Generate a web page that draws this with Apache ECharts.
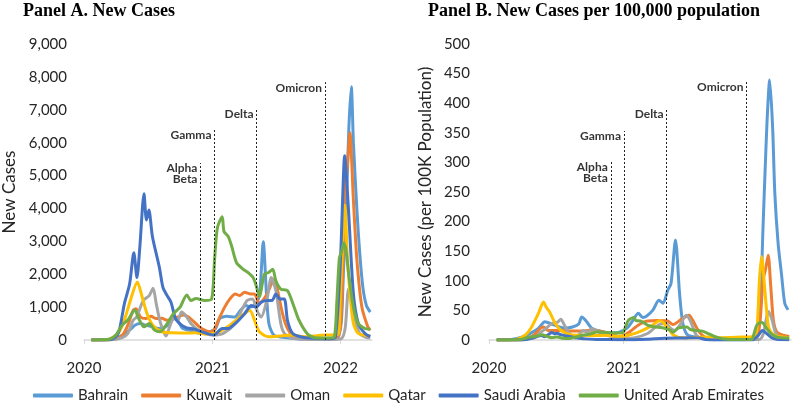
<!DOCTYPE html>
<html><head><meta charset="utf-8">
<script src="https://cdn.jsdelivr.net/npm/echarts@6/dist/echarts.min.js"></script>
<style>html,body{margin:0;padding:0;background:#fff}#c{width:797px;height:411px}</style>
</head><body><div id="c"></div>
<script>
const countries = ["Bahrain","Kuwait","Oman","Qatar","Saudi Arabia","United Arab Emirates"];
const colors = ["#5B9BD5","#ED7D31","#A5A5A5","#FFC000","#4472C4","#70AD47"];
const yearTicks = ["2020-01-01","2021-01-01","2022-01-01"];

// Panel A: new cases
const bahrainA = [["2020-01-22",0],["2020-03-01",10],["2020-04-01",50],["2020-04-20",150],["2020-05-10",300],["2020-05-25",450],["2020-06-10",500],["2020-06-25",450],["2020-07-15",400],["2020-08-01",350],["2020-08-20",400],["2020-09-05",550],["2020-09-12",650],["2020-09-25",580],["2020-10-08",350],["2020-10-25",300],["2020-11-15",230],["2020-12-05",200],["2020-12-25",250],["2021-01-10",350],["2021-01-22",650],["2021-02-10",720],["2021-03-06",700],["2021-03-22",900],["2021-04-07",1050],["2021-04-20",1000],["2021-05-05",1100],["2021-05-16",1430],["2021-05-26",2990],["2021-06-04",1430],["2021-06-11",500],["2021-06-25",150],["2021-07-20",80],["2021-09-01",40],["2021-11-01",30],["2021-12-20",40],["2021-12-28",150],["2022-01-04",600],["2022-01-10",2200],["2022-01-19",4450],["2022-01-25",6450],["2022-02-01",7700],["2022-02-07",6000],["2022-02-17",3950],["2022-02-25",2650],["2022-03-06",1600],["2022-03-16",1050],["2022-03-27",850]];
const kuwaitA = [["2020-01-22",0],["2020-03-01",5],["2020-04-01",40],["2020-04-20",150],["2020-05-05",450],["2020-05-20",900],["2020-05-28",950],["2020-06-10",700],["2020-06-25",650],["2020-07-10",720],["2020-07-25",650],["2020-08-10",660],["2020-08-25",600],["2020-09-10",650],["2020-09-25",700],["2020-10-10",760],["2020-10-25",700],["2020-11-10",550],["2020-11-25",400],["2020-12-10",300],["2020-12-25",250],["2021-01-05",300],["2021-01-20",650],["2021-02-05",1000],["2021-02-20",1250],["2021-03-07",1400],["2021-03-20",1350],["2021-04-03",1450],["2021-04-20",1400],["2021-05-01",1400],["2021-05-15",1100],["2021-05-28",1250],["2021-06-08",1450],["2021-06-20",1750],["2021-06-28",1850],["2021-07-07",1450],["2021-07-20",800],["2021-08-01",400],["2021-08-20",100],["2021-10-01",40],["2021-12-20",50],["2022-01-01",400],["2022-01-07",1800],["2022-01-13",4700],["2022-01-20",5200],["2022-01-28",6300],["2022-02-07",4250],["2022-02-17",2430],["2022-03-03",1010],["2022-03-20",400],["2022-03-27",300]];
const omanA = [["2020-01-22",0],["2020-03-01",0],["2020-04-01",20],["2020-04-20",80],["2020-05-05",200],["2020-05-20",600],["2020-05-30",700],["2020-06-18",1200],["2020-07-05",1350],["2020-07-16",1570],["2020-07-25",1100],["2020-08-04",600],["2020-08-15",250],["2020-08-22",120],["2020-09-01",400],["2020-09-14",700],["2020-09-25",600],["2020-10-05",850],["2020-10-20",700],["2020-11-01",500],["2020-11-15",350],["2020-11-28",250],["2020-12-15",180],["2021-01-05",150],["2021-02-01",200],["2021-03-07",500],["2021-03-25",900],["2021-04-10",1200],["2021-04-25",1250],["2021-05-10",850],["2021-05-20",700],["2021-06-05",1200],["2021-06-18",1900],["2021-07-01",1500],["2021-07-15",500],["2021-07-25",200],["2021-08-15",60],["2021-10-01",20],["2021-12-15",15],["2022-01-05",50],["2022-01-15",400],["2022-01-24",1550],["2022-02-02",1200],["2022-02-12",600],["2022-02-25",200],["2022-03-15",80],["2022-03-27",60]];
const qatarA = [["2020-01-22",0],["2020-03-01",0],["2020-03-20",50],["2020-04-10",250],["2020-04-25",600],["2020-05-15",1300],["2020-06-01",1760],["2020-06-15",1300],["2020-06-28",820],["2020-07-15",450],["2020-08-10",250],["2020-09-10",220],["2020-10-15",210],["2020-11-15",220],["2020-12-15",180],["2021-01-05",200],["2021-01-25",280],["2021-02-20",450],["2021-03-15",650],["2021-04-18",900],["2021-05-01",600],["2021-05-15",250],["2021-06-10",100],["2021-07-10",120],["2021-08-15",150],["2021-09-20",100],["2021-11-20",150],["2021-12-20",150],["2021-12-27",200],["2022-01-01",1400],["2022-01-07",2800],["2022-01-14",4100],["2022-01-20",2700],["2022-01-28",1420],["2022-02-07",505],["2022-02-21",200],["2022-03-27",120]];
const saudiA = [["2020-01-22",0],["2020-03-01",0],["2020-03-20",20],["2020-04-05",150],["2020-04-12",350],["2020-04-25",1100],["2020-05-10",1700],["2020-05-22",2650],["2020-05-31",1900],["2020-06-08",2800],["2020-06-20",4450],["2020-06-27",3650],["2020-07-04",3950],["2020-07-14",3150],["2020-08-03",2200],["2020-08-13",1600],["2020-08-25",1350],["2020-09-05",1150],["2020-09-18",650],["2020-10-05",450],["2020-10-20",370],["2020-11-10",330],["2020-12-15",200],["2021-01-05",150],["2021-01-29",350],["2021-02-15",350],["2021-03-07",500],["2021-04-03",800],["2021-04-22",1050],["2021-05-06",1000],["2021-05-20",1150],["2021-06-08",1200],["2021-06-20",1200],["2021-07-01",1400],["2021-07-12",1250],["2021-07-25",1250],["2021-08-03",600],["2021-08-17",210],["2021-09-09",100],["2021-10-15",50],["2021-12-01",40],["2021-12-18",100],["2022-01-01",2400],["2022-01-07",4200],["2022-01-13",5600],["2022-01-24",3950],["2022-02-07",1400],["2022-02-21",500],["2022-03-12",200],["2022-03-27",100]];
const uaeA = [["2020-01-22",0],["2020-02-15",5],["2020-03-15",30],["2020-04-01",150],["2020-04-17",430],["2020-05-05",610],["2020-05-25",910],["2020-06-05",650],["2020-06-20",400],["2020-07-05",500],["2020-07-20",300],["2020-08-05",250],["2020-08-25",500],["2020-09-12",800],["2020-10-01",1000],["2020-10-20",1370],["2020-11-01",1200],["2020-11-15",1260],["2020-12-10",1200],["2020-12-30",1250],["2021-01-07",2400],["2021-01-15",3400],["2021-01-29",3750],["2021-02-03",3300],["2021-02-15",3150],["2021-02-25",2850],["2021-03-11",2350],["2021-03-30",2150],["2021-04-13",2050],["2021-04-27",1900],["2021-05-06",1650],["2021-05-15",1320],["2021-05-29",2000],["2021-06-10",2050],["2021-06-22",2150],["2021-07-01",1800],["2021-07-15",1550],["2021-08-03",1500],["2021-08-22",1000],["2021-09-05",600],["2021-09-28",200],["2021-10-20",70],["2021-12-01",60],["2021-12-15",100],["2021-12-22",1200],["2021-12-29",2500],["2022-01-05",2700],["2022-01-10",2950],["2022-01-16",2800],["2022-01-24",2050],["2022-02-07",1000],["2022-02-21",500],["2022-03-12",350],["2022-03-27",330]];

// Panel B: new cases per 100K
const bahrainB = [["2020-01-22",0],["2020-03-01",1],["2020-04-01",5],["2020-04-25",12],["2020-05-15",20],["2020-06-01",31],["2020-06-20",27],["2020-07-10",22],["2020-07-26",20],["2020-08-15",22],["2020-09-01",27],["2020-09-09",39],["2020-09-20",33],["2020-10-06",20],["2020-10-30",15],["2020-11-28",12],["2020-12-20",13],["2021-01-10",20],["2021-01-25",32],["2021-02-10",45],["2021-02-22",38],["2021-03-04",40],["2021-03-22",51],["2021-04-07",67],["2021-04-18",62],["2021-05-01",84],["2021-05-10",96],["2021-05-22",169],["2021-06-02",79],["2021-06-11",28],["2021-06-25",8],["2021-08-01",4],["2021-10-01",2],["2021-12-20",2],["2021-12-28",6],["2022-01-06",34],["2022-01-15",191],["2022-01-20",276],["2022-01-26",371],["2022-02-02",439],["2022-02-10",360],["2022-02-16",248],["2022-02-25",163],["2022-03-06",112],["2022-03-15",62],["2022-03-24",51]];
const kuwaitB = [["2020-01-22",0],["2020-03-01",0],["2020-04-01",1],["2020-04-20",4],["2020-05-05",10],["2020-05-20",20],["2020-05-28",22],["2020-06-10",16],["2020-07-10",16],["2020-08-10",15],["2020-09-10",15],["2020-10-10",17],["2020-11-10",13],["2020-12-10",7],["2020-12-25",6],["2021-01-20",15],["2021-02-05",23],["2021-02-20",29],["2021-03-07",32],["2021-04-03",33],["2021-05-01",32],["2021-05-15",26],["2021-06-05",34],["2021-06-20",40],["2021-06-28",42],["2021-07-07",34],["2021-07-20",19],["2021-08-01",9],["2021-08-20",2],["2021-10-01",1],["2021-12-20",1],["2022-01-01",8],["2022-01-08",40],["2022-01-15",101],["2022-01-22",120],["2022-01-29",143],["2022-02-05",90],["2022-02-12",34],["2022-02-21",14],["2022-03-10",8],["2022-03-27",6]];
const omanB = [["2020-01-22",0],["2020-04-01",0],["2020-04-20",2],["2020-05-05",4],["2020-05-20",13],["2020-06-01",18],["2020-06-18",27],["2020-07-05",30],["2020-07-14",35],["2020-07-25",24],["2020-08-04",13],["2020-08-15",6],["2020-08-22",3],["2020-09-01",9],["2020-09-14",16],["2020-09-25",13],["2020-10-05",19],["2020-10-20",16],["2020-11-01",11],["2020-11-15",8],["2020-11-28",6],["2020-12-15",4],["2021-01-05",3],["2021-02-01",4],["2021-03-07",11],["2021-03-25",20],["2021-04-10",27],["2021-04-25",28],["2021-05-10",19],["2021-05-20",16],["2021-06-05",27],["2021-06-20",42],["2021-07-01",33],["2021-07-15",11],["2021-07-25",4],["2021-08-15",1],["2021-10-01",0.5],["2022-01-05",1],["2022-01-15",9],["2022-01-30",48],["2022-02-08",35],["2022-02-18",12],["2022-03-01",5],["2022-03-27",2]];
const qatarB = [["2020-01-22",0],["2020-03-01",0],["2020-03-20",2],["2020-04-10",9],["2020-04-25",21],["2020-05-15",46],["2020-05-28",64],["2020-06-05",55],["2020-06-15",46],["2020-06-28",29],["2020-07-15",16],["2020-08-10",9],["2020-09-10",8],["2020-10-15",7.5],["2020-11-15",8],["2020-12-15",6.5],["2021-01-05",7],["2021-01-25",10],["2021-02-20",16],["2021-03-15",23],["2021-04-10",33],["2021-05-01",21],["2021-05-15",9],["2021-06-10",4],["2021-07-10",4],["2021-08-15",5],["2021-09-20",4],["2021-11-20",5],["2021-12-25",7],["2022-01-01",45],["2022-01-05",100],["2022-01-11",141],["2022-01-20",84],["2022-01-29",25],["2022-02-07",12],["2022-02-20",7],["2022-03-27",4]];
const saudiB = [["2020-01-22",0],["2020-03-20",0],["2020-04-10",1],["2020-04-25",3],["2020-05-22",7.5],["2020-05-31",5.5],["2020-06-20",12.7],["2020-06-27",10.5],["2020-07-04",11.3],["2020-07-14",9],["2020-08-03",6.3],["2020-08-25",3.9],["2020-09-18",1.9],["2020-10-20",1],["2020-12-15",0.6],["2021-01-05",0.4],["2021-03-05",1.4],["2021-04-22",3],["2021-06-20",3.4],["2021-07-01",4],["2021-07-25",3.6],["2021-08-17",0.6],["2021-10-15",0.15],["2021-12-18",0.3],["2022-01-01",7],["2022-01-13",16],["2022-01-24",11.3],["2022-02-07",4],["2022-02-21",1.4],["2022-03-27",0.3]];
const uaeB = [["2020-01-22",0],["2020-03-15",0.3],["2020-04-01",1.5],["2020-04-17",4.5],["2020-05-05",6],["2020-05-25",9],["2020-06-05",6.5],["2020-06-20",4],["2020-07-05",5],["2020-07-20",3],["2020-08-05",2.5],["2020-08-25",5],["2020-09-12",8],["2020-10-01",10],["2020-10-20",13.5],["2020-11-15",12.5],["2020-12-10",12],["2020-12-30",12.5],["2021-01-07",24],["2021-01-15",34],["2021-01-29",38],["2021-02-03",33],["2021-02-15",32],["2021-02-25",29],["2021-03-11",24],["2021-03-30",22],["2021-04-13",21],["2021-04-27",19],["2021-05-06",17],["2021-05-15",13],["2021-05-29",20],["2021-06-22",22],["2021-07-01",18],["2021-07-15",16],["2021-08-03",15],["2021-08-22",10],["2021-09-05",6],["2021-09-28",2],["2021-10-20",0.7],["2021-12-15",1],["2021-12-22",12],["2021-12-29",25],["2022-01-10",30],["2022-01-16",28],["2022-01-24",20],["2022-02-07",10],["2022-02-21",5],["2022-03-12",3.5],["2022-03-27",3.3]];

// Variant markers
const variantNames = ["Alpha\nBeta","Gamma","Delta","Omicron"];
const variantDatesA = ["2020-11-28","2021-01-07","2021-05-07","2021-11-18"];
const variantTopA = [5380,6385,7050,7840];
const variantDatesB = ["2020-11-27","2021-01-02","2021-04-28","2021-12-01"];
const variantTopB = [301,353,391,436];

const seriesA = [bahrainA,kuwaitA,omanA,qatarA,saudiA,uaeA];
const seriesB = [bahrainB,kuwaitB,omanB,qatarB,saudiB,uaeB];

const FONT = "Lato";
const txt = "#262626";
const ts = s => { const p = s.split("-").map(Number); return new Date(p[0], p[1]-1, p[2]).getTime(); };

function xAxisFor(gi){
  const ticks = yearTicks.map(ts);
  return {type:"value", gridIndex:gi, min:ts("2020-01-01"), max:ts("2022-04-01"),
    axisLine:{show:true,lineStyle:{color:"#d9d9d9",width:1.5}},
    axisTick:{show:true,length:4,lineStyle:{color:"#d9d9d9"},customValues:ticks},
    axisLabel:{fontFamily:FONT,fontSize:15,color:txt,margin:21,customValues:ticks,
      formatter:v=>String(new Date(v).getFullYear())},
    splitLine:{show:false}};
}
function yAxisFor(gi,max,interval,name,gap,margin){
  return {type:"value", gridIndex:gi, min:0, max:max, interval:interval, name:name,
    nameLocation:"middle", nameGap:gap, nameRotate:90,
    nameTextStyle:{fontFamily:FONT,fontSize:17,color:txt},
    axisLine:{show:false}, axisTick:{show:false}, splitLine:{show:false},
    axisLabel:{fontFamily:FONT,fontSize:15,color:txt,margin:margin,
      formatter:v=>v.toLocaleString("en-US")}};
}
function lineSeries(data,idx,gi){
  return {type:"line", name:countries[idx], xAxisIndex:gi, yAxisIndex:gi,
    data:data.map(d=>[ts(d[0]),d[1]]),
    showSymbol:false, smooth:0.25, silent:true,
    lineStyle:{width:3,color:colors[idx]}, itemStyle:{color:colors[idx]}};
}
function variantSeries(dates,tops,gi){
  return {type:"scatter", name:"variants"+gi, xAxisIndex:gi, yAxisIndex:gi, symbolSize:0, silent:true,
    data:dates.map((d,i)=>({value:[ts(d),tops[i]], name:variantNames[i]})),
    label:{show:true, position:"left", distance:3, formatter:p=>p.name, align:"right", verticalAlign:"top",
      fontFamily:FONT, fontWeight:"bold", fontSize:12, lineHeight:11, color:"#000"},
    markLine:{silent:true, symbol:"none", label:{show:false}, animation:false,
      lineStyle:{type:[2,2],color:"#222",width:1},
      data:dates.map((d,i)=>[{coord:[ts(d),0]},{coord:[ts(d),tops[i]]}])},
    z:5};
}

const chart = echarts.init(document.getElementById("c"), null, {renderer:"canvas"});
const series = [];
seriesA.forEach((d,i)=>series.push(lineSeries(d,i,0)));
seriesB.forEach((d,i)=>series.push(lineSeries(d,i,1)));
series.push(variantSeries(variantDatesA,variantTopA,0));
series.push(variantSeries(variantDatesB,variantTopB,1));

chart.setOption({
  animation:false,
  backgroundColor:"#fff",
  title:[
    {text:"Panel A. New Cases", left:18, top:-3, textStyle:{fontFamily:"Liberation Serif",fontWeight:"bold",fontSize:18,color:"#000"}},
    {text:"Panel B. New Cases per 100,000 population", left:423, top:-3, textStyle:{fontFamily:"Liberation Serif",fontWeight:"bold",fontSize:18,color:"#000"}}
  ],
  legend:{data:countries, left:"center", top:383, itemWidth:40, itemHeight:4, itemGap:13, icon:"roundRect",
    textStyle:{fontFamily:FONT,fontSize:15,color:txt}},
  grid:[
    {left:80, top:44, width:292, height:296},
    {left:489, top:44, width:302, height:296}
  ],
  xAxis:[xAxisFor(0), xAxisFor(1)],
  yAxis:[yAxisFor(0,9000,1000,"New Cases",66,17), yAxisFor(1,500,50,"New Cases (per 100K Population)",55,19)],
  series:series
});
</script></body></html>
